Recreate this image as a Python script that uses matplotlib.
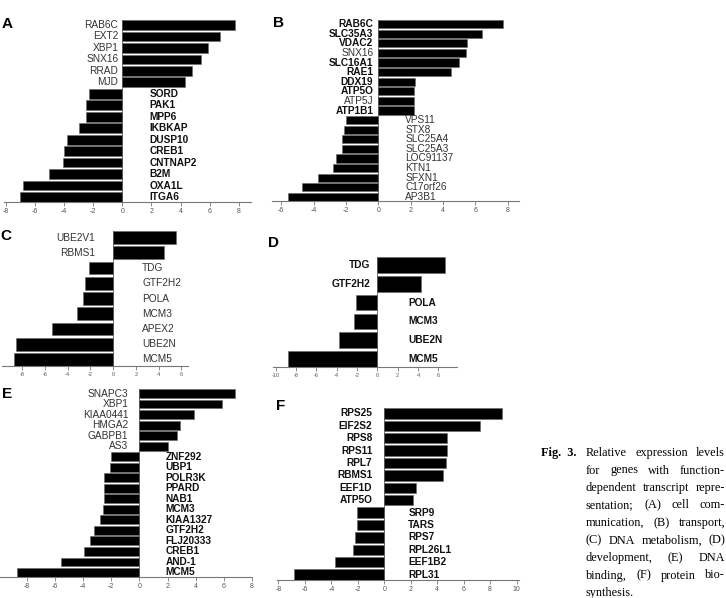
import numpy as np
import matplotlib
matplotlib.use("Agg")
import matplotlib.pyplot as plt

plt.rcParams['font.family'] = ['Liberation Sans', 'DejaVu Sans']
plt.rcParams['axes.unicode_minus'] = False

W, H = 726, 598

# ---- data ----
genes_a = ['RAB6C', 'EXT2', 'XBP1', 'SNX16', 'RRAD', 'MJD', 'SORD', 'PAK1', 'MPP6',
           'IKBKAP', 'DUSP10', 'CREB1', 'CNTNAP2', 'B2M', 'OXA1L', 'ITGA6']
vals_a = [7.7, 6.7, 5.9, 5.4, 4.8, 4.3, -2.3, -2.5, -2.5,
          -3.0, -3.8, -4.0, -4.05, -5.0, -6.85, -7.0]

genes_b = ['RAB6C', 'SLC35A3', 'VDAC2', 'SNX16', 'SLC16A1', 'RAE1', 'DDX19', 'ATP5O',
           'ATP5J', 'ATP1B1', 'VPS11', 'STX8', 'SLC25A4', 'SLC25A3', 'LOC91137', 'KTN1',
           'SFXN1', 'C17orf26', 'AP3B1']
vals_b = [7.7, 6.4, 5.5, 5.4, 5.0, 4.5, 2.3, 2.2,
          2.2, 2.2, -2.0, -2.1, -2.25, -2.25, -2.6, -2.8,
          -3.7, -4.7, -5.6]

genes_c = ['UBE2V1', 'RBMS1', 'TDG', 'GTF2H2', 'POLA', 'MCM3', 'APEX2', 'UBE2N', 'MCM5']
vals_c = [5.5, 4.5, -2.1, -2.5, -2.65, -3.15, -5.4, -8.6, -8.75]

genes_d = ['TDG', 'GTF2H2', 'POLA', 'MCM3', 'UBE2N', 'MCM5']
vals_d = [6.65, 4.3, -2.1, -2.25, -3.75, -8.8]

genes_e = ['SNAPC3', 'XBP1', 'KIAA0441', 'HMGA2', 'GABPB1', 'AS3', 'ZNF292', 'UBP1',
           'POLR3K', 'PPARD', 'NAB1', 'MCM3', 'KIAA1327', 'GTF2H2', 'FLJ20333', 'CREB1',
           'AND-1', 'MCM5']
vals_e = [6.8, 5.9, 3.9, 2.9, 2.7, 2.0, -2.0, -2.1,
          -2.5, -2.5, -2.5, -2.6, -2.8, -3.2, -3.5, -3.9,
          -5.6, -8.7]

genes_f = ['RPS25', 'EIF2S2', 'RPS8', 'RPS11', 'RPL7', 'RBMS1', 'EEF1D', 'ATP5O',
           'SRP9', 'TARS', 'RPS7', 'RPL26L1', 'EEF1B2', 'RPL31']
vals_f = [8.9, 7.25, 4.75, 4.75, 4.65, 4.45, 2.4, 2.2,
          -2.1, -2.1, -2.2, -2.35, -3.7, -6.8]

caption_lines = ['Relative expression levels',
                 'for genes with function-',
                 'dependent transcript repre-',
                 'sentation; (A) cell com-',
                 'munication, (B) transport,',
                 '(C) DNA metabolism, (D)',
                 'development, (E) DNA',
                 'binding, (F) protein bio-',
                 'synthesis.']

# ---- layout: pixel box (left, right, top, bottom), xlim, ticks, label gaps ----
panels = [
    dict(letter='A', genes=genes_a, vals=vals_a, box=(4, 251, 20, 202), xlim=(-8.12, 8.83),
         ticks=range(-8, 9, 2), gaps=(4, 27), lpos=(2, 28), tsize=5.0,
         bold=set(genes_a[6:])),
    dict(letter='B', genes=genes_b, vals=vals_b, box=(272, 519, 20, 201), xlim=(-6.57, 8.7),
         ticks=range(-6, 9, 2), gaps=(5, 27), lpos=(273, 27), tsize=5.0,
         bold={'RAB6C', 'SLC35A3', 'VDAC2', 'SLC16A1', 'RAE1', 'DDX19', 'ATP5O', 'ATP1B1'}),
    dict(letter='C', genes=genes_c, vals=vals_c, box=(2, 188, 231, 366), xlim=(-9.8, 6.6),
         ticks=range(-8, 7, 2), gaps=(18, 29), lpos=(0.5, 240), tsize=4.0,
         bold=set()),
    dict(letter='D', genes=genes_d, vals=vals_d, box=(273, 457, 257, 367), xlim=(-10.26, 7.84),
         ticks=range(-10, 7, 2), gaps=(7, 31), lpos=(268, 247), tsize=4.0,
         bold=set(genes_d)),
    dict(letter='E', genes=genes_e, vals=vals_e, box=(0, 252, 389, 577), xlim=(-9.9, 8.0),
         ticks=range(-8, 9, 2), gaps=(11, 26), lpos=(2, 398), tsize=5.0,
         bold=set(genes_e[6:])),
    dict(letter='F', genes=genes_f, vals=vals_f, box=(277, 519, 408, 580), xlim=(-8.11, 10.18),
         ticks=range(-8, 11, 2), gaps=(12, 24), lpos=(276, 410), tsize=5.0,
         bold=set(genes_f)),
]

fig = plt.figure(figsize=(W / 100, H / 100), dpi=100)

for p in panels:
    l, r, t, b = p['box']
    ax = fig.add_axes([l / W, 1 - b / H, (r - l) / W, (b - t) / H])
    n = len(p['genes'])
    y = np.arange(n)
    ax.barh(y, p['vals'], height=0.84, color='black', edgecolor='#666666', linewidth=0.4)
    ax.set_ylim(n - 1 + 0.43, -0.43)
    ax.set_xlim(*p['xlim'])
    ax.axvline(0, color='#777777', lw=0.7, zorder=0)
    for s in ['top', 'right', 'left']:
        ax.spines[s].set_visible(False)
    ax.spines['bottom'].set_color('#777777')
    ax.spines['bottom'].set_linewidth(0.8)
    ax.set_yticks([])
    ax.set_xticks(list(p['ticks']))
    ax.tick_params(axis='x', length=3, width=0.6, color='#777777', pad=1.5,
                   labelsize=p['tsize'], labelcolor='#555555')
    for i, (g, v) in enumerate(zip(p['genes'], p['vals'])):
        isbold = g in p['bold']
        if v > 0:
            off, ha = -p['gaps'][0], 'right'
        else:
            off, ha = p['gaps'][1], 'left'
        ax.annotate(g, xy=(0, i), xytext=(off, 0), textcoords='offset pixels',
                    ha=ha, va='center', fontsize=7.3,
                    fontweight='bold' if isbold else 'normal',
                    color='#111111' if isbold else '#333333')
    fig.text(p['lpos'][0] / W, 1 - p['lpos'][1] / H, p['letter'],
             fontsize=11, fontweight='bold', ha='left', va='baseline')

# ---- caption, justified ----
serif = ['Liberation Serif', 'DejaVu Serif']
x0, x1 = 586, 726
y0, dy = 456, 17.5
fig.text(541 / W, 1 - y0 / H, 'Fig.  3.', family=serif, fontsize=8.8,
         fontweight='bold', va='baseline')
renderer = fig.canvas.get_renderer()
for k, line in enumerate(caption_lines):
    yy = 1 - (y0 + k * dy) / H
    words = line.split()
    texts = [fig.text(0, yy, w, family=serif, fontsize=8.8, va='baseline') for w in words]
    widths = [tx.get_window_extent(renderer).width for tx in texts]
    if k == len(caption_lines) - 1 or len(words) == 1:
        gap = 3
    else:
        gap = (x1 - 1 - x0 - sum(widths)) / (len(words) - 1)
    x = x0
    for tx, w in zip(texts, widths):
        tx.set_x(x / W)
        x += w + gap

fig.savefig('out.png', dpi=100)
